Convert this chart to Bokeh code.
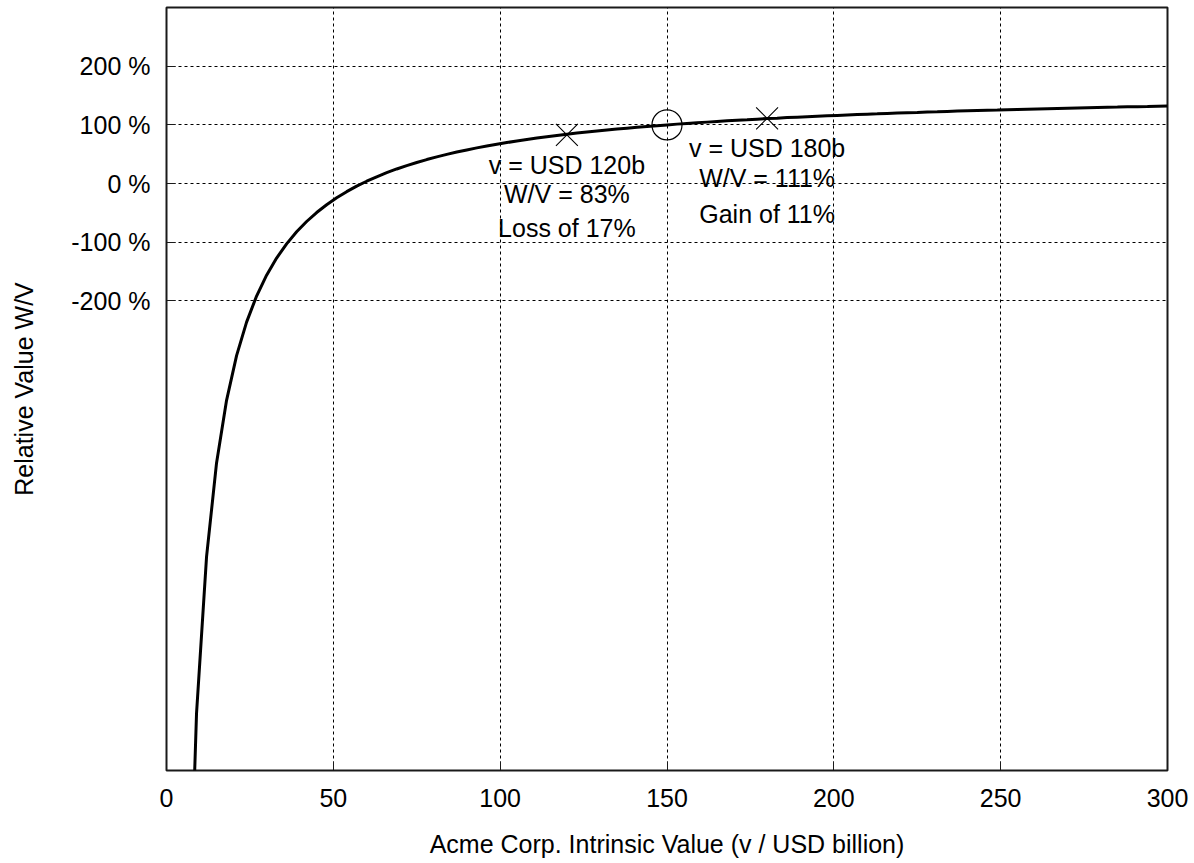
from bokeh.plotting import figure
from bokeh.models import Range1d, FixedTicker, ColumnDataSource
from bokeh.embed import file_html
from bokeh.resources import INLINE
from bokeh.core.properties import value

# Relative value W/V (%) against intrinsic value v (USD billion)
v_values = [6, 9, 12, 15, 18, 21, 24, 27, 30, 33, 36, 39, 42, 45, 48, 51, 54, 57,
            60, 63, 66, 69, 72, 75, 78, 81, 84, 87, 90, 93, 96, 99, 102, 105, 108,
            111, 114, 117, 120, 123, 126, 129, 132, 135, 138, 141, 144, 147, 150,
            153, 156, 159, 162, 165, 168, 171, 174, 177, 180, 183, 186, 189, 192,
            195, 198, 201, 204, 207, 210, 213, 216, 219, 222, 225, 228, 231, 234,
            237, 240, 243, 246, 249, 252, 255, 258, 261, 264, 267, 270, 273, 276,
            279, 282, 285, 288, 291, 294, 297, 300]
wv_values = [-1436, -902.7, -636, -476, -369.3, -293.1, -236, -191.6, -156, -126.9,
             -102.7, -82.2, -64.6, -49.3, -36, -24.2, -13.8, -4.4,
             4, 11.6, 18.5, 24.9, 30.7, 36, 40.9, 45.5, 49.7, 53.7, 57.3, 60.8, 64,
             67.0, 69.9, 72.6, 75.1, 77.5, 79.8, 81.9, 84, 86.0, 87.8, 89.6, 91.3,
             92.9, 94.4, 95.9, 97.3, 98.7, 100,
             101.3, 102.5, 103.6, 104.7, 105.8, 106.9, 107.9, 108.8, 109.8, 110.7,
             111.5, 112.4, 113.2, 114, 114.8, 115.5, 116.2, 116.9, 117.6, 118.3,
             118.9, 119.6, 120.2, 120.8, 121.3, 121.9, 122.4, 123.0, 123.5, 124,
             124.5, 125.0, 125.4, 125.9, 126.4, 126.8, 127.2, 127.6, 128.0, 128.4,
             128.8, 129.2, 129.6, 130.0, 130.3, 130.7, 131.0, 131.3, 131.7, 132]

# Reference point and the two scenarios
ref_v = [150]
ref_wv = [100]
case_v = [120, 180]
case_wv = [83, 111]

x_ticks = [0, 50, 100, 150, 200, 250, 300]
y_ticks = [-200, -100, 0, 100, 200]
y_tick_labels = ["-200 %", "-100 %", "0 %", "100 %", "200 %"]

left_lines = ["v = USD 120b", "W/V = 83%", "Loss of 17%"]
right_lines = ["v = USD 180b", "W/V = 111%", "Gain of 11%"]

FONT = "Liberation Sans"
FS = "25px"

p = figure(width=1194, height=863, output_backend="svg", toolbar_location=None,
           x_range=Range1d(0, 300), y_range=Range1d(-1000, 300),
           min_border_left=166, min_border_right=27, min_border_top=7,
           min_border_bottom=93)
p.background_fill_color = "white"
p.border_fill_color = "white"
p.outline_line_color = "#1a1a1a"
p.outline_line_width = 2

# axes
for ax in (p.xaxis[0], p.yaxis[0]):
    ax.axis_line_color = None
    ax.major_tick_in = 9
    ax.major_tick_out = 0
    ax.major_tick_line_color = "#1a1a1a"
    ax.major_tick_line_width = 1
    ax.minor_tick_line_color = None
    ax.major_label_text_font = FONT
    ax.major_label_text_font_size = FS
    ax.major_label_text_color = "black"
    ax.axis_label_text_font = FONT
    ax.axis_label_text_font_size = FS
    ax.axis_label_text_font_style = "normal"
    ax.axis_label_text_color = "black"

p.xaxis.ticker = FixedTicker(ticks=x_ticks)
p.xaxis.major_label_standoff = 18
p.xaxis.axis_label = "Acme Corp. Intrinsic Value (v / USD billion)"
p.xaxis.axis_label_standoff = 20

p.yaxis.ticker = FixedTicker(ticks=y_ticks)
p.yaxis.major_label_overrides = {t: s for t, s in zip(y_ticks, y_tick_labels)}
p.yaxis.major_label_standoff = 16
p.yaxis.axis_label = "Relative Value W/V"
p.yaxis.axis_label_standoff = 30

# dashed grid
for g in (p.xgrid[0], p.ygrid[0]):
    g.grid_line_color = "black"
    g.grid_line_width = 1
    g.grid_line_dash = "3 3"
    g.grid_line_alpha = 1.0

# curve
src = ColumnDataSource(data=dict(v=v_values, wv=wv_values))
p.line("v", "wv", source=src, line_color="black", line_width=3)

# markers
p.scatter(ref_v, ref_wv, marker="circle", size=30, fill_color=None,
          line_color="black", line_width=1.2)
p.scatter(case_v, case_wv, marker="x", size=31, line_color="black", line_width=1.1)

# scenario annotations (one text per line)
left_y = [31, -18.6, -76.5]
right_y = [60, 8.7, -52.6]
p.text(x=[case_v[0]] * 3, y=left_y, text=left_lines, text_align="center",
       text_baseline="middle", text_font=value(FONT), text_font_size=FS,
       text_color="black")
p.text(x=[case_v[1]] * 3, y=right_y, text=right_lines, text_align="center",
       text_baseline="middle", text_font=value(FONT), text_font_size=FS,
       text_color="black")

open("out.html", "w").write(file_html(p, INLINE))
